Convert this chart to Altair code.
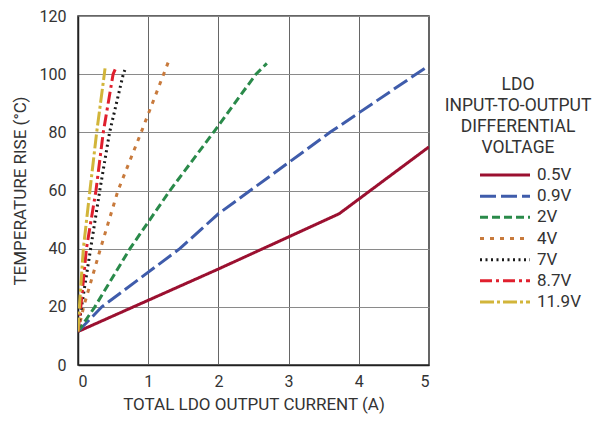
import altair as alt
import pandas as pd

labels = ["0.5V", "0.9V", "2V", "4V", "7V", "8.7V", "11.9V"]
colors = ["#9B1030", "#3F5CAB", "#2A8A4A", "#C87A3C", "#1A1A1A", "#E0202E", "#D2B53A"]
dashes = [[1, 0], [16, 5], [8, 4], [4, 6], [2, 3.5], [12, 4, 3, 4], [14, 3, 3, 3]]
legend_title = ["LDO", "INPUT-TO-OUTPUT", "DIFFERENTIAL", "VOLTAGE"]

x_05 = [0, 2, 3.72, 5]
y_05 = [11.5, 33, 52, 75]
x_09 = [0, 0.34, 1.45, 2, 3.59, 5]
y_09 = [11.5, 20, 40, 52, 80, 103]
x_2 = [0, 0.24, 0.74, 1.31, 1.93, 2.535, 2.69]
y_2 = [11.5, 20, 40, 60, 80, 100, 103.7]
x_4 = [0, 0.08, 0.32, 0.57, 0.9, 1.22, 1.3]
y_4 = [11.5, 20, 40, 60, 80, 100, 105]
x_7 = [0, 0.05, 0.18, 0.31, 0.45, 0.645, 0.68]
y_7 = [11.5, 20, 40, 60, 80, 100, 102.3]
x_87 = [0, 0.04, 0.12, 0.256, 0.36, 0.5, 0.54]
y_87 = [11.5, 20, 40, 60, 80, 100, 102.2]
x_119 = [0, 0.02, 0.076, 0.17, 0.266, 0.375, 0.385]
y_119 = [11.5, 20, 40, 60, 80, 100, 102]

series_x = [x_05, x_09, x_2, x_4, x_7, x_87, x_119]
series_y = [y_05, y_09, y_2, y_4, y_7, y_87, y_119]

rows = []
for lab, xs, ys in zip(labels, series_x, series_y):
    for i, (xv, yv) in enumerate(zip(xs, ys)):
        rows.append({"series": lab, "x": xv, "y": yv, "i": i})
df = pd.DataFrame(rows)
leg_df = pd.DataFrame({"series": labels, "k": list(range(len(labels)))})

FONT = "Roboto"
TXT = "#333333"

color_enc = alt.Color("series:N", scale=alt.Scale(domain=labels, range=colors), legend=None)
dash_enc = alt.StrokeDash("series:N", scale=alt.Scale(domain=labels, range=dashes), legend=None)

lines = alt.Chart(df).mark_line(strokeWidth=3, clip=True).encode(
    x=alt.X("x:Q", scale=alt.Scale(domain=[0, 5], nice=False),
            axis=alt.Axis(title="TOTAL LDO OUTPUT CURRENT (A)", values=[0, 1, 2, 3, 4, 5],
                          format="d", gridColor="#666666")),
    y=alt.Y("y:Q", scale=alt.Scale(domain=[0, 120], nice=False),
            axis=alt.Axis(title="TEMPERATURE RISE (°C)", values=[0, 20, 40, 60, 80, 100, 120],
                          gridColor="#8a8a8a")),
    color=color_enc,
    strokeDash=dash_enc,
    order="i:Q",
)

leg_y = alt.Y("k:Q", scale=alt.Scale(domain=[0, 6], range=[159, 286]), axis=None)

leg_rules = alt.Chart(leg_df).mark_rule(strokeWidth=3, clip=False).encode(
    x=alt.value(402), x2=alt.value(452), y=leg_y,
    color=color_enc, strokeDash=dash_enc,
)
leg_text = alt.Chart(leg_df).mark_text(
    align="left", baseline="middle", font=FONT, fontSize=17, color=TXT, clip=False
).encode(
    x=alt.value(459), y=leg_y, text="series:N",
)
leg_title = alt.Chart(pd.DataFrame({"t": [0]})).mark_text(
    align="center", baseline="top", font=FONT, fontSize=17.5, color=TXT,
    lineHeight=21, clip=False, text=legend_title,
).encode(
    x=alt.value(440), y=alt.value(60),
)

chart = alt.layer(lines, leg_rules, leg_text, leg_title).resolve_scale(
    y="independent"
).properties(
    width=351, height=349,
    autosize=alt.AutoSizeParams(type="none"),
    padding={"left": 70, "top": 8, "right": 163, "bottom": 52},
).configure_view(
    stroke="#333333", strokeWidth=1.5
).configure_axis(
    labelFont=FONT, titleFont=FONT, labelFontSize=16, titleFontSize=17,
    labelColor=TXT, titleColor=TXT, titleFontWeight="normal",
    domainColor="#222222", domainWidth=1.5, ticks=False, gridWidth=1, gridOpacity=1,
    grid=True,
).configure_axisX(
    labelPadding=8, titlePadding=7
).configure_axisY(
    labelPadding=12, titlePadding=10
)

chart.save("out.html", embed_options={"renderer": "svg", "actions": False})
